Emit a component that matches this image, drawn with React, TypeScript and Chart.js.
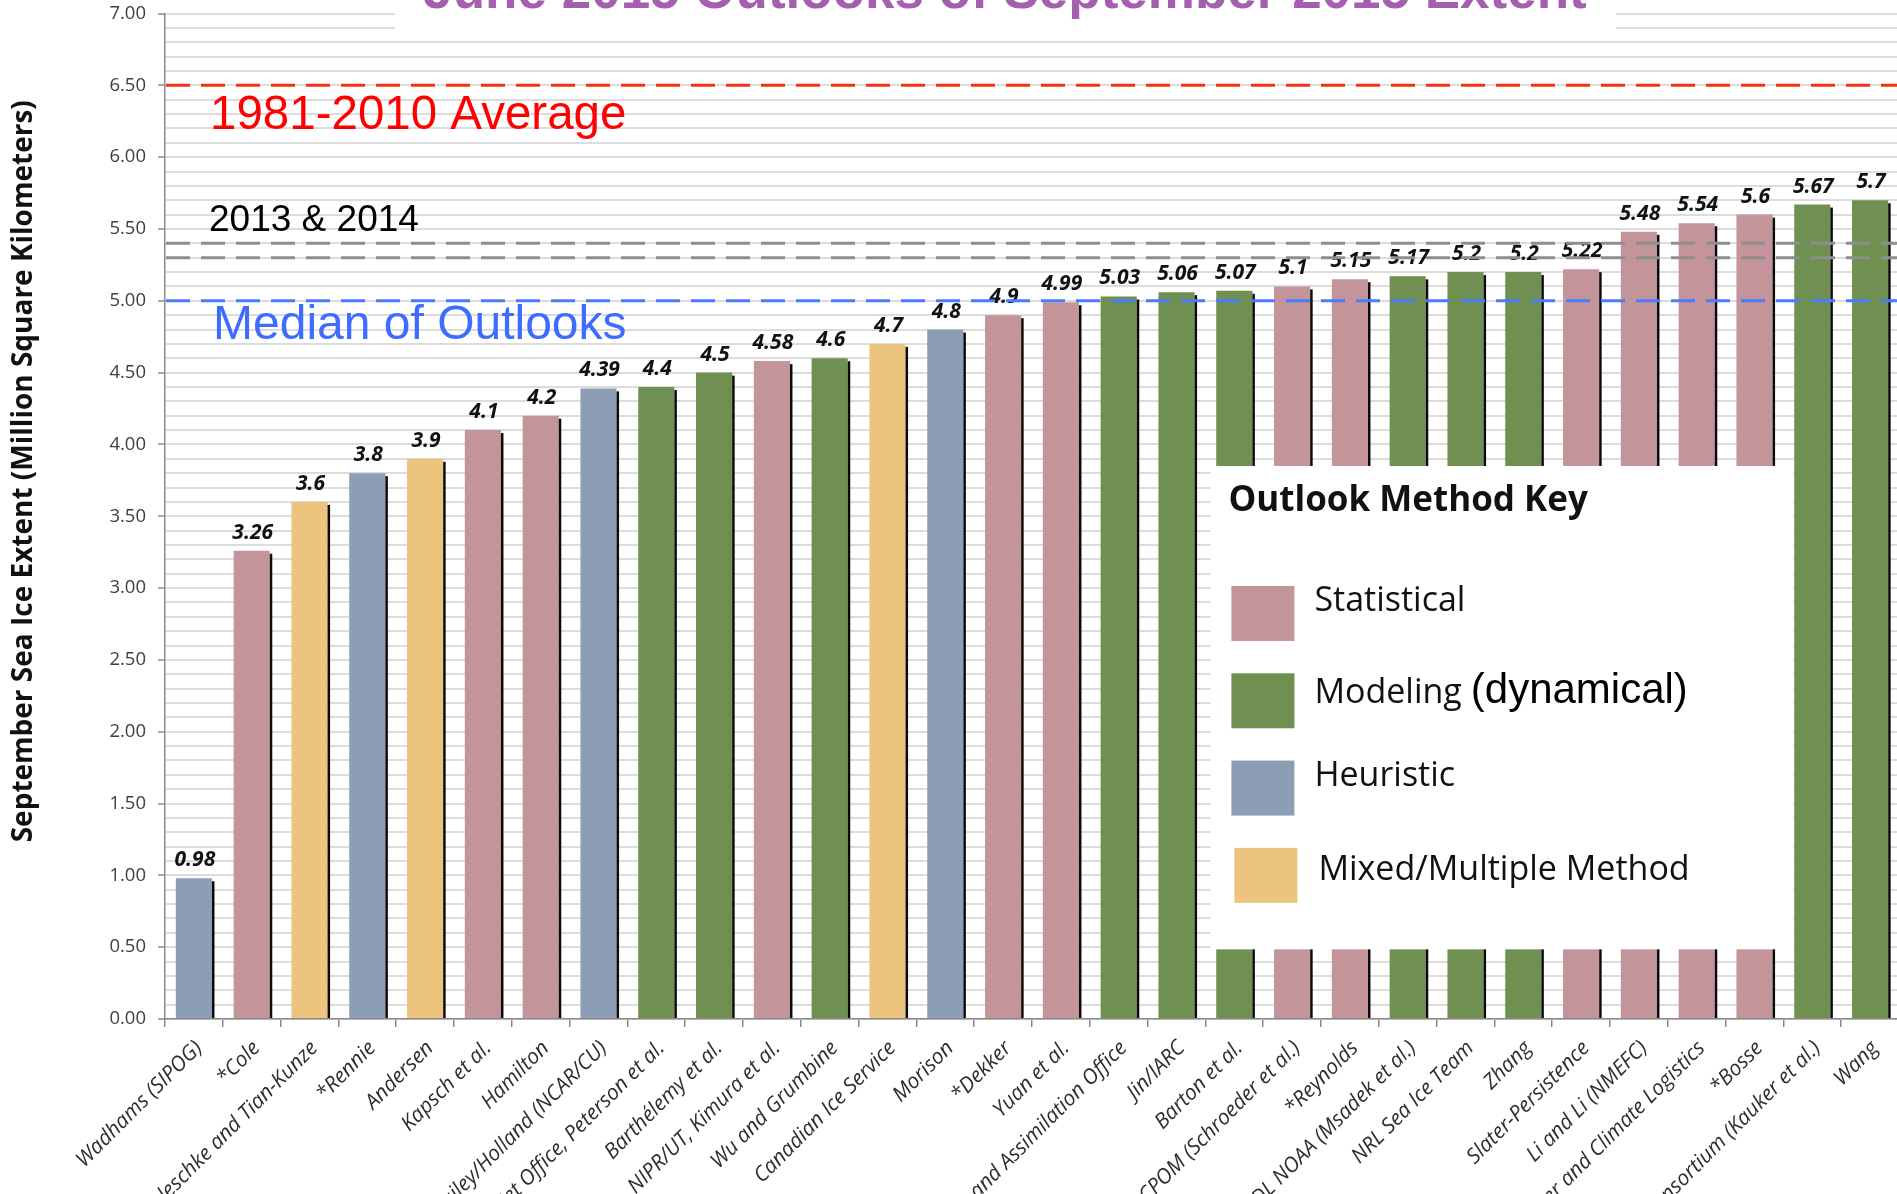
import { useEffect, useRef } from "react";
import { Chart, registerables } from "chart.js";

Chart.register(...registerables);

const categories = [
  "Wadhams (SIPOG)",
  "*Cole",
  "Kaleschke and Tian-Kunze",
  "*Rennie",
  "Andersen",
  "Kapsch et al.",
  "Hamilton",
  "Bailey/Holland (NCAR/CU)",
  "Met Office, Peterson et al.",
  "Barthélemy et al.",
  "NIPR/UT, Kimura et al.",
  "Wu and Grumbine",
  "Canadian Ice Service",
  "Morison",
  "*Dekker",
  "Yuan et al.",
  "NASA Global Modeling and Assimilation Office",
  "Jin/IARC",
  "Barton et al.",
  "CPOM (Schroeder et al.)",
  "*Reynolds",
  "GFDL NOAA (Msadek et al.)",
  "NRL Sea Ice Team",
  "Zhang",
  "Slater-Persistence",
  "Li and Li (NMEFC)",
  "Weather and Climate Logistics",
  "*Bosse",
  "AWI Consortium (Kauker et al.)",
  "Wang",
];

const extents = [
  0.98, 3.26, 3.6, 3.8, 3.9, 4.1, 4.2, 4.39, 4.4, 4.5, 4.58, 4.6, 4.7, 4.8, 4.9,
  4.99, 5.03, 5.06, 5.07, 5.1, 5.15, 5.17, 5.2, 5.2, 5.22, 5.48, 5.54, 5.6, 5.67, 5.7,
];

// 0 = Statistical, 1 = Modeling, 2 = Heuristic, 3 = Mixed/Multiple
const methodIndex = [
  2, 0, 3, 2, 3, 0, 0, 2, 1, 1, 0, 1, 3, 2, 0, 0, 1, 1, 1, 0, 0, 1, 1, 1, 0, 0, 0, 0, 1, 1,
];

const methodNames = ["Statistical", "Modeling", "Heuristic", "Mixed/Multiple Method"];
const methodColors = ["#c4949b", "#6f9051", "#8d9db5", "#ecc47e"];

const yMin = 0;
const yMax = 7;
const yStep = 0.1;
const yLabelStep = 0.5;

const refValues = [6.5, 5.4, 5.3, 5.0];
const refColors = ["#f8300f", "#8e8e8e", "#8e8e8e", "#4a7bff"];
const refTexts = ["1981-2010 Average", "2013 & 2014", "Median of Outlooks"];
const refTextColors = ["#ff0000", "#000000", "#3d6cff"];

const titleText = "June 2015 Outlooks of September 2015 Extent";
const yTitleText = "September Sea Ice Extent (Million Square Kilometers)";
const legendTitle = "Outlook Method Key";

const CANVAS_W = 1905;
const CANVAS_H = 1400;
const PLOT_TOP_PAD = 13.5;
const PLOT_BOTTOM = 1019;
const PLOT_LEFT = 165;
const PLOT_RIGHT = 1899;

const overlayPlugin = {
  id: "overlay",
  afterDatasetsDraw(chart: any) {
    const { ctx, chartArea: ca, scales } = chart;
    const y = scales.y;
    const meta = chart.getDatasetMeta(0);
    ctx.save();

    // bar shadows
    meta.data.forEach((bar: any) => {
      ctx.fillStyle = "#0b0b0b";
      const top = bar.y + 3;
      ctx.fillRect(bar.x + bar.width / 2, top, 2.5, bar.base - top);
    });

    // value labels
    ctx.font = 'italic bold 21px "Open Sans"';
    ctx.textAlign = "center";
    ctx.textBaseline = "alphabetic";
    ctx.fillStyle = "#111111";
    meta.data.forEach((bar: any, i: number) => {
      ctx.fillText(String(extents[i]), bar.x + 1, bar.y - 12);
    });

    // reference lines
    refValues.forEach((v, i) => {
      const py = y.getPixelForValue(v);
      ctx.beginPath();
      ctx.setLineDash([24, 11]);
      ctx.lineWidth = 3;
      ctx.strokeStyle = refColors[i];
      ctx.moveTo(ca.left + 1, py);
      ctx.lineTo(chart.width, py);
      ctx.stroke();
    });
    ctx.setLineDash([]);

    // reference texts
    ctx.textAlign = "left";
    ctx.font = '47.5px "Liberation Sans"';
    ctx.fillStyle = refTextColors[0];
    ctx.fillText(refTexts[0], ca.left + 45, y.getPixelForValue(refValues[0]) + 44);
    ctx.font = '37px "Liberation Sans"';
    ctx.fillStyle = refTextColors[1];
    ctx.fillText(refTexts[1], ca.left + 44, y.getPixelForValue(refValues[1]) - 12);
    ctx.font = '48px "Liberation Sans"';
    ctx.fillStyle = refTextColors[2];
    ctx.fillText(refTexts[2], ca.left + 48, y.getPixelForValue(refValues[3]) + 38);

    // legend box
    const catW = (ca.right - ca.left) / categories.length;
    const boxL = ca.left + 18 * catW + 5;
    const boxR = ca.left + 28 * catW + 10;
    const boxT = y.getPixelForValue(3.85);
    const boxB = y.getPixelForValue(0.485);
    ctx.fillStyle = "#ffffff";
    ctx.fillRect(boxL, boxT, boxR - boxL, boxB - boxT);

    ctx.fillStyle = "#111111";
    ctx.font = 'bold 35px "Open Sans"';
    ctx.fillText(legendTitle, boxL + 18, boxT + 45);

    const baseOffsets = [25, 30, 25, 32];
    methodNames.forEach((name, i) => {
      const top = boxT + 120 + i * 87.3;
      ctx.fillStyle = methodColors[i];
      ctx.fillRect(boxL + 21 + (i === 3 ? 3 : 0), top, 63, 55);
      ctx.fillStyle = "#111111";
      ctx.font = '34px "Open Sans"';
      const tx = boxL + 104 + (i === 3 ? 4 : 0);
      const base = top + baseOffsets[i];
      ctx.fillText(name, tx, base);
      if (i === 1) {
        const w = ctx.measureText(name).width;
        ctx.font = '42px "Liberation Sans"';
        ctx.fillStyle = "#000000";
        ctx.fillText("(dynamical)", tx + w + 9, base);
      }
    });

    ctx.restore();
  },
  afterDraw(chart: any) {
    const { ctx, chartArea: ca } = chart;
    ctx.save();
    // title backdrop and title
    ctx.fillStyle = "#ffffff";
    ctx.fillRect(ca.left + 230, 0, 1221, 33);
    ctx.fillStyle = "#a45fae";
    ctx.font = 'bold 53px "Liberation Sans"';
    ctx.textAlign = "center";
    ctx.textBaseline = "alphabetic";
    ctx.fillText(titleText, ca.left + 840, 8);

    // y axis title
    ctx.translate(24, (ca.top + ca.bottom) / 2 - 45);
    ctx.rotate(-Math.PI / 2);
    ctx.font = 'bold 28px "Open Sans"';
    ctx.fillStyle = "#111111";
    ctx.textBaseline = "middle";
    ctx.fillText(yTitleText, 0, 0);
    ctx.restore();
  },
};

function isLabelTick(v: number) {
  const k = v / yLabelStep;
  return Math.abs(k - Math.round(k)) < 1e-6;
}

export default function App() {
  const ref = useRef<HTMLCanvasElement | null>(null);

  useEffect(() => {
    if (!ref.current) return;
    Chart.defaults.font.family = '"Open Sans", sans-serif';
    const chart = new Chart(ref.current, {
      type: "bar",
      data: {
        labels: categories,
        datasets: [
          {
            data: extents,
            backgroundColor: methodIndex.map((m) => methodColors[m]),
            borderWidth: 0,
            barPercentage: 0.625,
            categoryPercentage: 1,
          },
        ],
      },
      options: {
        animation: false,
        responsive: false,
        maintainAspectRatio: false,
        layout: {
          padding: { top: PLOT_TOP_PAD, left: 0, right: CANVAS_W - PLOT_RIGHT, bottom: 0 },
        },
        plugins: {
          legend: { display: false },
          title: { display: false },
          tooltip: { enabled: false },
        },
        scales: {
          x: {
            offset: true,
            grid: {
              display: true,
              drawOnChartArea: false,
              drawTicks: true,
              tickLength: 8,
              color: "#8a8a8a",
              lineWidth: 1.5,
              offset: true,
            },
            border: { display: true, color: "#8a8a8a", width: 1.5 },
            ticks: {
              autoSkip: false,
              maxRotation: 45,
              minRotation: 45,
              padding: 9,
              labelOffset: 5,
              color: "#2e2e2e",
              font: { size: 21, style: "italic", family: '"Open Sans"' },
            },
            afterFit: (scale: any) => {
              scale.height = CANVAS_H - PLOT_BOTTOM;
              scale.paddingLeft = 0;
              scale.paddingRight = 0;
            },
          },
          y: {
            min: yMin,
            max: yMax,
            grid: {
              color: "#dcdcdc",
              lineWidth: 2,
              tickLength: 7,
              tickColor: (c: any) => (c.tick && isLabelTick(c.tick.value) ? "#8a8a8a" : "rgba(0,0,0,0)"),
              tickWidth: 1.5,
            },
            border: { display: true, color: "#8a8a8a", width: 1.5 },
            ticks: {
              stepSize: yStep,
              autoSkip: false,
              padding: 12,
              color: "#404040",
              font: { size: 18.5, family: '"Open Sans"' },
              callback: (v: any) => (isLabelTick(Number(v)) ? Number(v).toFixed(2) : ""),
            },
            afterFit: (scale: any) => {
              scale.width = PLOT_LEFT;
              scale.paddingTop = 0;
              scale.paddingBottom = 0;
            },
          },
        },
      },
      plugins: [overlayPlugin],
    });
    return () => chart.destroy();
  }, []);

  return (
    <div
      style={{
        position: "fixed",
        left: 0,
        top: 0,
        width: "1897px",
        height: "1194px",
        overflow: "hidden",
        background: "#ffffff",
      }}
    >
      <canvas
        ref={ref}
        width={CANVAS_W}
        height={CANVAS_H}
        style={{ position: "absolute", left: 0, top: 0, width: CANVAS_W + "px", height: CANVAS_H + "px" }}
      />
    </div>
  );
}
